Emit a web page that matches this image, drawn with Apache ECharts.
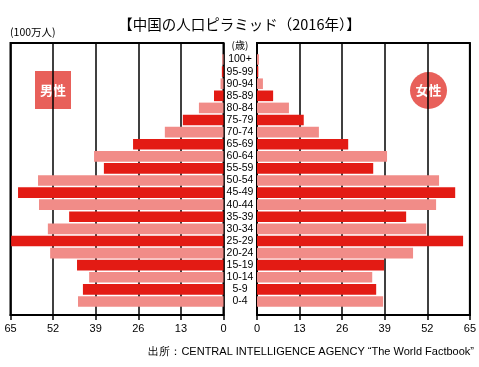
<!DOCTYPE html>
<html><head><meta charset="utf-8">
<script src="https://cdn.jsdelivr.net/npm/echarts@6/dist/echarts.min.js"></script>
<style>html,body{margin:0;padding:0;background:#fff}#c{width:479px;height:367px}</style>
</head><body><div id="c"></div>
<script>
const ages = ['100+','95-99','90-94','85-89','80-84','75-79','70-74','65-69','60-64','55-59','50-54','45-49','40-44','35-39','30-34','25-29','20-24','15-19','10-14','5-9','0-4'];
const male = [0.4,0.5,0.9,2.9,7.5,12.4,17.9,27.6,39.5,36.5,56.6,62.7,56.3,47.1,53.6,64.8,52.9,44.7,41.0,42.9,44.4];
const female = [0.6,0.4,1.8,4.9,9.7,14.2,18.8,27.7,39.5,35.3,55.3,60.2,54.4,45.3,51.4,62.6,47.4,38.6,35.0,36.2,38.3];
const ticks = [0,13,26,39,52,65];
const title = '【中国の人口ピラミッド（2016年）】';
const unit = '(100万人)';
const ageUnit = '(歳)';
const source = '出所：CENTRAL INTELLIGENCE AGENCY “The World Factbook”';
const maleLabel = '男性', femaleLabel = '女性';

const DARK = '#e31b14', LIGHT = '#f18c88';
const colorOf = (i) => (i % 2 === 0 ? LIGHT : DARK);
const font = '"Liberation Sans", Arial, sans-serif';
const jp = '"Noto Sans CJK JP", sans-serif';
const XMIN = ticks[0], XMAX = ticks[ticks.length - 1], XINT = ticks[1] - ticks[0];

function frameX(idx, inverse) {
  return {
    type: 'value', gridIndex: idx, min: XMIN, max: XMAX, interval: XINT, inverse: inverse,
    axisLine: {show: true, lineStyle: {color: '#000', width: 2}},
    axisTick: {show: true, length: 5, lineStyle: {color: '#000', width: 1.5}},
    axisLabel: {color: '#000', fontSize: 11, fontFamily: font, margin: 8},
    splitLine: {show: true, lineStyle: {color: '#000', width: 1.5}}
  };
}
function barX(idx, inverse) {
  return {type: 'value', gridIndex: idx, min: XMIN, max: XMAX, interval: XINT, inverse: inverse,
    axisLine: {show: false}, axisTick: {show: false}, axisLabel: {show: false}, splitLine: {show: false}};
}
const hiddenY = (idx) => ({type: 'value', gridIndex: idx, min: 0, max: 1, show: false, splitLine: {show: false}});
const chart = echarts.init(document.getElementById('c'), null, {renderer: 'canvas'});
chart.setOption({
  animation: false,
  backgroundColor: '#fff',
  title: {text: title, left: 'center', top: 12, textStyle: {fontFamily: jp, fontSize: 14.5, fontWeight: 'normal', color: '#000'}},
  grid: [
    {left: 10.5, top: 43, width: 213, height: 272, show: true, borderColor: '#000', borderWidth: 2, backgroundColor: 'transparent'},
    {left: 257, top: 43, width: 214, height: 272, show: true, borderColor: '#000', borderWidth: 2, backgroundColor: 'transparent'},
    {left: 10.5, top: 53.5, width: 213, height: 254},
    {left: 257, top: 53.5, width: 214, height: 254}
  ],
  xAxis: [frameX(0, true), frameX(1, false), barX(2, true), barX(3, false)],
  yAxis: [
    hiddenY(0), hiddenY(1),
    {type: 'category', gridIndex: 2, data: ages, inverse: true, axisLine: {show: false}, axisTick: {show: false}, axisLabel: {show: false}},
    {type: 'category', gridIndex: 3, data: ages, inverse: true, axisLine: {show: false}, axisTick: {show: false},
     axisLabel: {show: true, interval: 0, align: 'center', margin: 17, color: '#000', fontSize: 10.5, fontFamily: font}}
  ],
  series: [
    {type: 'bar', xAxisIndex: 2, yAxisIndex: 2, barWidth: '88%',
     data: male.map((v, i) => ({value: v, itemStyle: {color: colorOf(i)}}))},
    {type: 'bar', xAxisIndex: 3, yAxisIndex: 3, barWidth: '88%',
     data: female.map((v, i) => ({value: v, itemStyle: {color: colorOf(i)}}))}
  ],
  graphic: [
    {type: 'text', left: 10, top: 27, style: {text: unit, fontSize: 10.5, fontFamily: jp, fill: '#000'}},
    {type: 'text', x: 240, y: 45.5, style: {text: ageUnit, fontSize: 10, fontFamily: jp, fill: '#000', align: 'center', verticalAlign: 'middle'}},
    {type: 'rect', shape: {x: 35, y: 71, width: 36, height: 38}, style: {fill: '#e8605a'}},
    {type: 'text', x: 53, y: 90, style: {text: maleLabel, fontSize: 13, fontWeight: 'bold', fontFamily: jp, fill: '#fff', align: 'center', verticalAlign: 'middle'}},
    {type: 'circle', shape: {cx: 428.5, cy: 90.5, r: 18.5}, style: {fill: '#e8605a'}},
    {type: 'text', x: 428.5, y: 90.5, style: {text: femaleLabel, fontSize: 13, fontWeight: 'bold', fontFamily: jp, fill: '#fff', align: 'center', verticalAlign: 'middle'}},
    {type: 'text', x: 474, y: 352, style: {text: source, fontSize: 11, fontFamily: font, fill: '#000', align: 'right', verticalAlign: 'middle'}}
  ]
});
</script></body></html>
